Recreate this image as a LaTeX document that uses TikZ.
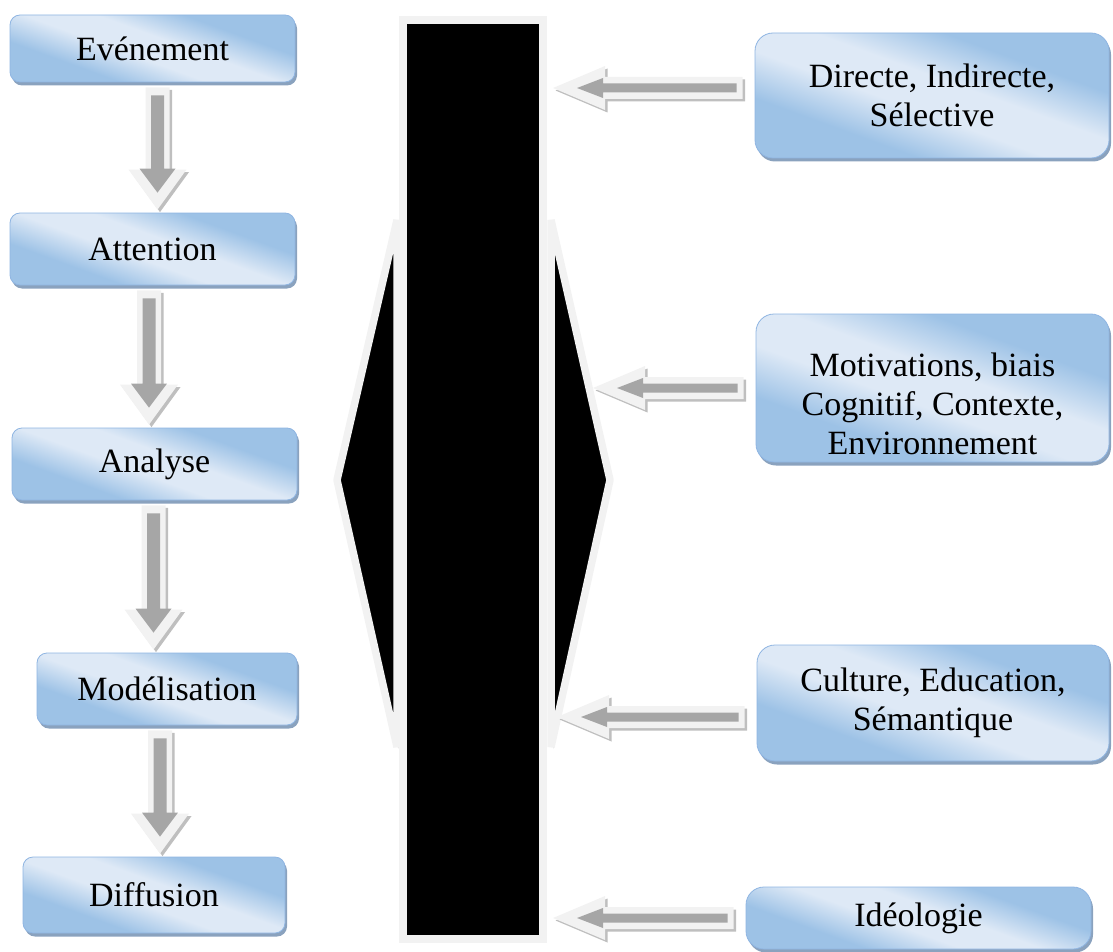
\documentclass[tikz,border=0pt]{standalone}
\usepackage{fontspec}
\setmainfont{Liberation Serif}
\usetikzlibrary{calc,shadows}

\definecolor{boxdark}{HTML}{9DC2E6}
\definecolor{boxlight}{HTML}{DEE9F6}
\definecolor{boxline}{HTML}{8FB5E2}
\definecolor{boxshadow}{HTML}{8AA2BE}
\definecolor{arrlight}{HTML}{F2F2F2}
\definecolor{arrdark}{HTML}{A6A6A6}
\definecolor{arrshade}{HTML}{BFBFBF}

\pgfdeclarehorizontalshading{boxshade}{100bp}{color(0bp)=(boxdark); color(33bp)=(boxdark); color(45bp)=(boxlight); color(55bp)=(boxlight); color(67bp)=(boxdark); color(100bp)=(boxdark)}

\tikzset{
  flowbox/.style={draw=boxline, line width=0.8pt, rounded corners=10pt,
    shade, shading=boxshade, shading angle=70,
    general shadow={fill=boxshadow, shadow xshift=2pt, shadow yshift=-3.5pt},
    inner sep=0pt, align=center, font=\fontsize{34pt}{39.5pt}\selectfont},
  factorbox/.style={flowbox, rounded corners=18pt},
  barbox/.style={fill=black, draw=arrlight, line width=8pt, inner sep=0pt,
    general shadow={fill=arrshade, shadow xshift=3pt, shadow yshift=-3pt}},
  wing/.style={fill=black, draw=arrlight, line width=7.5pt, line join=bevel},
  wingshadow/.style={fill=arrshade, transform canvas={xshift=2pt,yshift=-2pt}},
}

% Downward block arrow: #1 upper anchor, #2 lower anchor, #3 x offset, #4 style,
% #5 top inset, #6 tip inset, #7 shaft half width, #8 head half width, #9 head length
\newcommand\vblock[9]{%
  \path[#4] let \p1=(#1), \p2=(#2) in
    (\x1+#3-#7,\y1-#5) -- (\x1+#3+#7,\y1-#5) -- (\x1+#3+#7,\y2+#6+#9)
    -- (\x1+#3+#8,\y2+#6+#9) -- (\x1+#3,\y2+#6) -- (\x1+#3-#8,\y2+#6+#9)
    -- (\x1+#3-#7,\y2+#6+#9) -- cycle;}

% Leftward block arrow: #1 start anchor, #2 tip point, #3 style,
% #4 start inset, #5 tip inset, #6 shaft half width, #7 head half width, #8 head length
\newcommand\hblock[8]{%
  \path[#3] let \p1=(#1), \p2=(#2) in
    (\x1-#4,\y2-#6) -- (\x1-#4,\y2+#6) -- (\x2+#5+#8,\y2+#6)
    -- (\x2+#5+#8,\y2+#7) -- (\x2+#5,\y2) -- (\x2+#5+#8,\y2-#7)
    -- (\x2+#5+#8,\y2-#6) -- cycle;}

\newcommand\flowarrow[3]{%
  \vblock{#1}{#2}{#3}{fill=arrshade, transform canvas={xshift=2.5pt,yshift=-2.5pt}}{5pt}{3pt}{12pt}{29pt}{40pt}
  \vblock{#1}{#2}{#3}{fill=arrlight}{5pt}{3pt}{12pt}{29pt}{40pt}
  \vblock{#1}{#2}{#3}{fill=arrdark}{13pt}{20pt}{6.5pt}{18pt}{24pt}}

\newcommand\factorarrow[2]{%
  \hblock{#1}{#2}{fill=arrshade, transform canvas={xshift=2.5pt,yshift=-2.5pt}}{12pt}{0pt}{11pt}{22pt}{52pt}
  \hblock{#1}{#2}{fill=arrlight}{12pt}{0pt}{11pt}{22pt}{52pt}
  \hblock{#1}{#2}{fill=arrdark}{18pt}{24pt}{4.5pt}{10pt}{26pt}}

\begin{document}
\begin{tikzpicture}[x=1pt, y=-1pt]
\useasboundingbox (0,0) rectangle (1113,952);

% side wings behind the central bar
\path[wingshadow] (397,220) -- (337,480) -- (397,747) -- cycle;
\path[wingshadow] (551,220) -- (610,480) -- (551,747) -- cycle;
\draw[wing] (397,220) -- (337,480) -- (397,747) -- cycle;
\draw[wing] (551,220) -- (610,480) -- (551,747) -- cycle;

% central bar
\node[barbox, minimum width=140pt, minimum height=919pt] (bar) at (473,479.5) {};

% process chain
\node[flowbox, minimum width=285pt, minimum height=67pt] (evt) at (152.5,48.5) {Evénement};
\node[flowbox, minimum width=285pt, minimum height=72pt] (att) at (152.5,249) {Attention};
\node[flowbox, minimum width=285pt, minimum height=72pt] (ana) at (154.5,464) {Analyse};
\node[flowbox, minimum width=260pt, minimum height=72pt] (mod) at (167,689) {Modélisation};
\node[flowbox, minimum width=262pt, minimum height=76pt] (dif) at (154,895) {Diffusion};

% influencing factors
\node[factorbox, minimum width=354pt, minimum height=125pt] (fa) at (932,95.5) {Directe, Indirecte,\\Sélective};
\node[factorbox, minimum width=353pt, minimum height=148pt] (fb) at (932.5,388) {};
\node[font=\fontsize{34pt}{39pt}\selectfont, align=center, inner sep=0pt] (fbtext) at ([yshift=-16pt]fb.center) {Motivations, biais\\Cognitif, Contexte,\\Environnement};
\node[factorbox, minimum width=352pt, minimum height=116pt] (fc) at (933,703) {Culture, Education,\\Sémantique};
\node[factorbox, minimum width=345pt, minimum height=62pt] (fd) at (918.5,918) {Idéologie};

% arrow tips on the bar and wing
\coordinate (ta) at (553,88);
\coordinate (tb) at (593,388);
\coordinate (tc) at (557,717);
\coordinate (td) at (553,918);

% arrows
\flowarrow{evt.south}{att.north}{5pt}
\flowarrow{att.south}{ana.north}{-3.5pt}
\flowarrow{ana.south}{mod.north}{-1pt}
\flowarrow{mod.south}{dif.north}{-7pt}

\factorarrow{fa.west}{ta}
\factorarrow{fb.west}{tb}
\factorarrow{fc.west}{tc}
\factorarrow{fd.west}{td}
\end{tikzpicture}
\end{document}
